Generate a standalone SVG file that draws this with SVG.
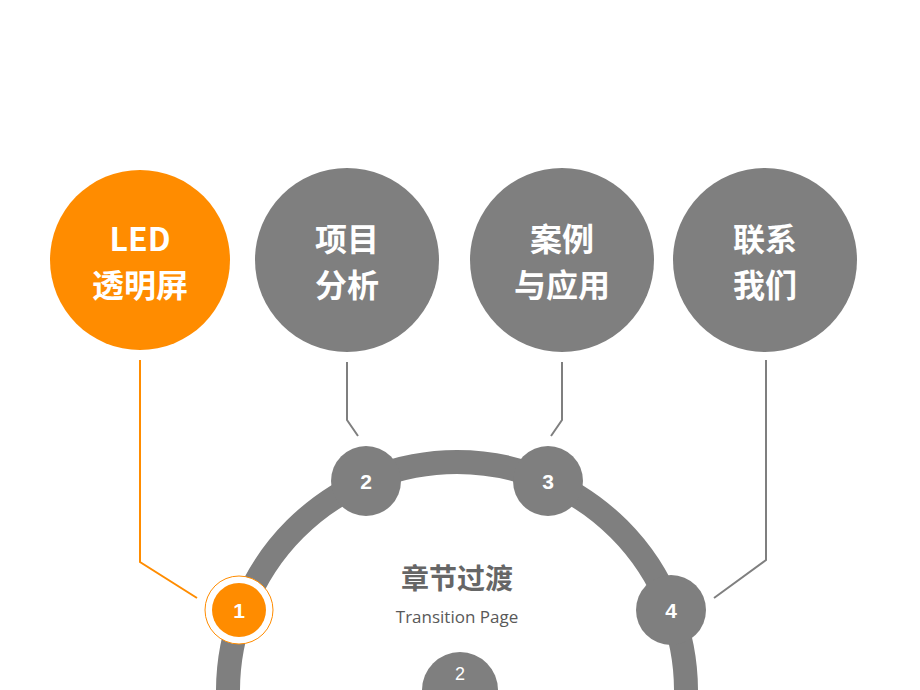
<svg xmlns="http://www.w3.org/2000/svg" width="920" height="690" viewBox="0 0 920 690">
<style>
.big{font-family:"Noto Sans CJK SC","Liberation Sans",sans-serif;font-weight:bold;font-size:32px;fill:#fff;text-anchor:middle}
.num{font-family:"Liberation Sans",sans-serif;font-weight:bold;font-size:21px;fill:#fff;text-anchor:middle}
.g{fill:#7f7f7f}
.ln{fill:none;stroke:#7f7f7f;stroke-width:2}
</style>
<rect width="920" height="690" fill="#fff"/>
<g id="connectors">
<polyline points="140,360 140,562 197,598" fill="none" stroke="#ff8c00" stroke-width="2"/>
<polyline class="ln" points="347,362 347,420 358,436"/>
<polyline class="ln" points="562,362 562,420 551,436"/>
<polyline class="ln" points="766,360 766,560 714,598"/>
</g>
<g id="arc"><circle cx="457" cy="691" r="229" fill="none" stroke="#7f7f7f" stroke-width="24"/></g>
<g id="n1"><circle cx="140" cy="260" r="90" fill="#ff8c00"/><text class="big" x="140" y="251">LED</text><text class="big" x="140" y="297">透明屏</text></g>
<g id="n2"><circle cx="347" cy="260" r="92" class="g"/><text class="big" x="347" y="251">项目</text><text class="big" x="347" y="297">分析</text></g>
<g id="n3"><circle cx="562" cy="260" r="92" class="g"/><text class="big" x="562" y="251">案例</text><text class="big" x="562" y="297">与应用</text></g>
<g id="n4"><circle cx="765" cy="260" r="92" class="g"/><text class="big" x="765" y="251">联系</text><text class="big" x="765" y="297">我们</text></g>
<g id="s1"><circle cx="239" cy="610" r="34" fill="#fff" stroke="#ff8c00" stroke-width="1"/><circle cx="239" cy="610" r="27" fill="#ff8c00"/><text class="num" x="239" y="618">1</text></g>
<g id="s2"><circle cx="366" cy="481" r="35" class="g"/><text class="num" x="366" y="489">2</text></g>
<g id="s3"><circle cx="548" cy="481" r="35" class="g"/><text class="num" x="548" y="489">3</text></g>
<g id="s4"><circle cx="671" cy="610" r="35" class="g"/><text class="num" x="671" y="618">4</text></g>
<g id="center">
<text x="457" y="589" text-anchor="middle" font-family="Noto Sans CJK SC,sans-serif" font-weight="bold" font-size="28" fill="#666">章节过渡</text>
<text x="457" y="623" text-anchor="middle" font-family="Open Sans,sans-serif" font-size="17" fill="#595959">Transition Page</text>
</g>
<g id="page"><circle cx="460" cy="690" r="38" class="g"/><text x="460" y="680" text-anchor="middle" font-family="Liberation Sans,sans-serif" font-size="18" fill="#fff">2</text></g>
</svg>
